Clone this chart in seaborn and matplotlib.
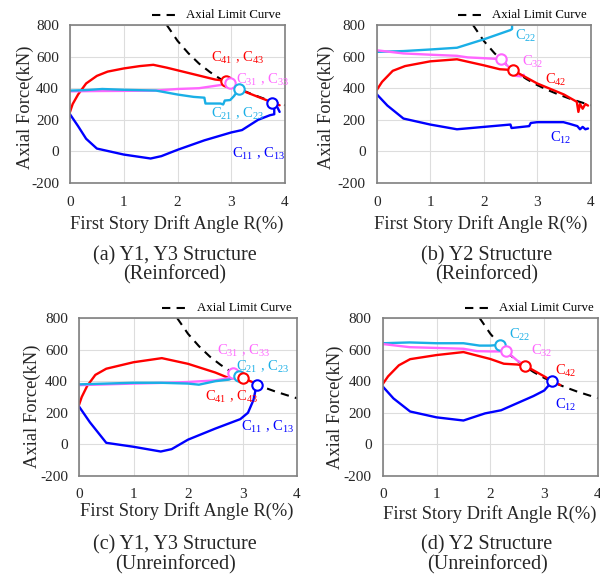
import numpy as np
import pandas as pd
import matplotlib
matplotlib.use("Agg")
import matplotlib.pyplot as plt
import seaborn as sns

sns.set_theme(style="whitegrid")
plt.rcParams['font.family'] = ['Liberation Serif', 'DejaVu Serif']
plt.rcParams['mathtext.fontset'] = 'custom'
plt.rcParams['mathtext.rm'] = 'Liberation Serif'
plt.rcParams['mathtext.it'] = 'Liberation Serif:italic'
plt.rcParams['mathtext.default'] = 'regular'
plt.rcParams['axes.unicode_minus'] = False

RED = "#FF0000"
MAG = "#FF66FF"
CYAN = "#1AAFE6"
BLUE = "#0000FF"

# ---- Axial limit curve ----
lim_R = [1.8, 2.0, 2.2, 2.4, 2.6, 2.8, 3.0, 3.2, 3.4, 3.6, 3.8, 4.0]
lim_N = [800, 700, 622, 556, 503, 458, 420, 388, 360, 335, 313, 292]

# ---- (a) Y1, Y3 reinforced ----
a_red_R = [0, 0.05, 0.15, 0.3, 0.5, 0.7, 1.0, 1.3, 1.55, 1.8, 2.1, 2.4, 2.7, 2.9, 3.2, 3.5, 3.75, 3.9]
a_red_N = [250, 300, 360, 430, 478, 505, 525, 540, 548, 530, 505, 480, 455, 447, 385, 345, 312, 292]
a_mag_R = [0, 0.5, 1.0, 1.6, 2.0, 2.4, 2.6, 2.8, 2.98]
a_mag_N = [380, 382, 383, 385, 395, 400, 410, 420, 430]
a_cyan_R = [0, 0.3, 0.6, 1.0, 1.6, 2.0, 2.3, 2.5, 2.52, 2.8, 2.85, 2.88, 2.98, 3.05, 3.14]
a_cyan_N = [385, 388, 395, 390, 385, 360, 345, 340, 303, 303, 297, 322, 325, 350, 392]
a_blue_R = [0, 0.15, 0.3, 0.5, 1.0, 1.5, 1.7, 2.0, 2.5, 3.0, 3.2, 3.5, 3.72, 3.8, 3.8, 3.75, 3.85, 3.9]
a_blue_N = [235, 160, 80, 18, -20, -45, -30, 10, 70, 120, 135, 200, 229, 235, 290, 308, 285, 250]

# ---- (b) Y2 reinforced ----
b_cyan_R = [0, 0.5, 1.0, 1.5, 2.0, 2.5, 2.53, 2.53]
b_cyan_N = [630, 635, 645, 656, 709, 768, 775, 810]
b_mag_R = [0, 0.5, 1.0, 1.5, 1.7, 2.0, 2.32, 2.45, 2.55, 2.6, 2.7, 2.75]
b_mag_N = [640, 620, 612, 605, 595, 590, 584, 540, 505, 478, 475, 485]
b_red_R = [0, 0.1, 0.3, 0.53, 1.0, 1.5, 2.0, 2.3, 2.54, 3.0, 3.5, 3.74, 3.77, 3.8, 3.85, 3.9, 3.95]
b_red_N = [388, 440, 510, 540, 570, 583, 545, 520, 515, 430, 360, 314, 250, 300, 270, 300, 290]
b_blue_R = [0, 0.2, 0.5, 1.0, 1.5, 2.0, 2.5, 2.52, 2.85, 2.88, 3.0, 3.49, 3.6, 3.75, 3.8, 3.85, 3.9, 3.95]
b_blue_N = [362, 290, 208, 170, 140, 155, 170, 148, 160, 180, 185, 185, 175, 160, 140, 155, 140, 145]

# ---- (c) Y1, Y3 unreinforced ----
c_red_R = [0, 0.05, 0.15, 0.3, 0.5, 1.0, 1.52, 2.0, 2.5, 2.75, 3.0, 3.25]
c_red_N = [250, 300, 370, 440, 479, 520, 546, 510, 455, 420, 420, 385]
c_mag_R = [0, 0.5, 1.0, 1.6, 2.0, 2.5, 2.75, 2.83]
c_mag_N = [375, 380, 385, 390, 395, 405, 420, 451]
c_cyan_R = [0, 0.5, 1.0, 1.5, 2.0, 2.2, 2.5, 2.75, 2.93]
c_cyan_N = [380, 385, 390, 390, 385, 378, 400, 410, 436]
c_blue_R = [0, 0.2, 0.5, 1.0, 1.5, 1.7, 2.0, 2.5, 2.96, 3.1, 3.2, 3.26]
c_blue_N = [240, 140, 10, -15, -45, -30, 30, 100, 160, 200, 280, 377]

# ---- (d) Y2 unreinforced ----
d_cyan_R = [0, 0.5, 1.0, 1.5, 1.8, 2.0, 2.18]
d_cyan_N = [640, 645, 640, 640, 625, 625, 630]
d_mag_R = [0, 0.5, 1.0, 1.5, 1.75, 2.0, 2.3, 2.5, 2.65]
d_mag_N = [635, 615, 610, 605, 590, 588, 588, 530, 497]
d_red_R = [0, 0.1, 0.3, 0.51, 1.0, 1.5, 2.0, 2.25, 2.5, 2.65, 3.0, 3.15, 3.3]
d_red_N = [381, 430, 500, 539, 565, 584, 540, 510, 505, 497, 430, 400, 375]
d_blue_R = [0, 0.2, 0.51, 1.0, 1.5, 1.9, 2.2, 2.5, 2.8, 3.0, 3.15]
d_blue_N = [366, 290, 207, 170, 150, 195, 215, 260, 305, 340, 398]

captions = [("(a) Y1, Y3 Structure", "(Reinforced)"), ("(b) Y2 Structure", "(Reinforced)"),
            ("(c) Y1, Y3 Structure", "(Unreinforced)"), ("(d) Y2 Structure", "(Unreinforced)")]

fig = plt.figure(figsize=(6, 5.79), dpi=100)
W, H = 600.0, 579.0
def ax_at(l, r, t, b):
    return fig.add_axes([l / W, 1 - b / H, (r - l) / W, (b - t) / H])

axes = [ax_at(70, 285, 25, 183), ax_at(376.7, 590.7, 25, 183),
        ax_at(79, 297, 318, 476), ax_at(382.7, 598, 318, 475.7)]
cap_pos = [(175, 256, 275), (487, 256, 275), (175, 545, 565), (487, 545, 565)]
xlab_pos = [(177, 224), (481, 224), (187, 511), (490, 514)]
ylab_pos = [(25, 107), (326, 107), (32.5, 406), (335.5, 407)]

def series(R, N, color, ax, lw=1.7):
    df = pd.DataFrame({"R": R, "N": N})
    sns.lineplot(data=df, x="R", y="N", sort=False, color=color, lw=lw, ax=ax, estimator=None)

def marker(ax, x, y, color):
    ax.plot([x], [y], marker="o", ms=7.5, mfc="white", mec=color, mew=1.5, zorder=6, clip_on=False)

panels = [
    dict(lines=[(a_red_R, a_red_N, RED), (a_mag_R, a_mag_N, MAG), (a_cyan_R, a_cyan_N, CYAN), (a_blue_R, a_blue_N, BLUE)],
         marks=[(a_red_R[13], a_red_N[13], RED), (a_mag_R[-1], a_mag_N[-1], MAG), (a_cyan_R[-1], a_cyan_N[-1], CYAN), (a_blue_R[15], a_blue_N[15], BLUE)],
         labels=[(2.62, 590, r"C$_{41}$ , C$_{43}$", RED), (3.09, 451, r"C$_{31}$ , C$_{33}$", MAG),
                 (2.62, 240, r"C$_{21}$ , C$_{23}$", CYAN), (3.01, -14, r"C$_{11}$ , C$_{13}$", BLUE)]),
    dict(lines=[(b_cyan_R, b_cyan_N, CYAN), (b_mag_R, b_mag_N, MAG), (b_red_R, b_red_N, RED), (b_blue_R, b_blue_N, BLUE)],
         marks=[(b_mag_R[6], b_mag_N[6], MAG), (b_red_R[8], b_red_N[8], RED)],
         labels=[(2.59, 730, r"C$_{22}$", CYAN), (2.71, 567, r"C$_{32}$", MAG),
                 (3.15, 455, r"C$_{42}$", RED), (3.23, 85, r"C$_{12}$", BLUE)]),
    dict(lines=[(c_red_R, c_red_N, RED), (c_mag_R, c_mag_N, MAG), (c_cyan_R, c_cyan_N, CYAN), (c_blue_R, c_blue_N, BLUE)],
         marks=[(c_mag_R[-1], c_mag_N[-1], MAG), (c_cyan_R[-1], c_cyan_N[-1], CYAN), (c_red_R[10], c_red_N[10], RED), (c_blue_R[-1], c_blue_N[-1], BLUE)],
         labels=[(2.54, 593, r"C$_{31}$ , C$_{33}$", MAG), (2.88, 489, r"C$_{21}$ , C$_{23}$", CYAN),
                 (2.31, 299, r"C$_{41}$ , C$_{43}$", RED), (2.97, 109, r"C$_{11}$ , C$_{13}$", BLUE)]),
    dict(lines=[(d_cyan_R, d_cyan_N, CYAN), (d_mag_R, d_mag_N, MAG), (d_red_R, d_red_N, RED), (d_blue_R, d_blue_N, BLUE)],
         marks=[(d_cyan_R[-1], d_cyan_N[-1], CYAN), (d_mag_R[6], d_mag_N[6], MAG), (d_red_R[9], d_red_N[9], RED), (d_blue_R[-1], d_blue_N[-1], BLUE)],
         labels=[(2.35, 694, r"C$_{22}$", CYAN), (2.75, 588, r"C$_{32}$", MAG),
                 (3.21, 467, r"C$_{42}$", RED), (3.20, 249, r"C$_{12}$", BLUE)]),
]

for k, (ax, p) in enumerate(zip(axes, panels)):
    ld = pd.DataFrame({"R": lim_R, "N": lim_N})
    sns.lineplot(data=ld, x="R", y="N", color="black", lw=1.5, ls=(0, (4, 3)), ax=ax, estimator=None, sort=False)
    for R, N, c in p["lines"]:
        series(R, N, c, ax)
    for x, y, c in p["marks"]:
        marker(ax, x, y, c)
    for x, y, t, c in p["labels"]:
        ax.text(x, y, t, color=c, fontsize=10.5, va="center", ha="left")
    ax.set_xlim(0, 4)
    ax.set_ylim(-200, 800)
    ax.set_xticks([0, 1, 2, 3, 4])
    ax.set_yticks([-200, 0, 200, 400, 600, 800])
    ax.grid(True, color="#DDDDDD", lw=0.8)
    for s in ax.spines.values():
        s.set_color("#808080")
        s.set_linewidth(1.2)
    ax.tick_params(axis="both", labelsize=11, colors="#262626", length=0)
    ax.tick_params(axis="y", pad=8)
    ax.tick_params(axis="x", pad=9)
    ax.set_xlabel("")
    ax.set_ylabel("")
    xl, yl = xlab_pos[k]
    fig.text(xl / W, 1 - yl / H, "First Story Drift Angle R(%)", fontsize=13.3,
             ha="center", va="center")
    xl, yl = ylab_pos[k]
    fig.text(xl / W, 1 - yl / H, "Axial Force(kN)", fontsize=13.3, rotation=90,
             ha="center", va="center")
    ax.plot([0.38, 0.51], [1.065, 1.065], transform=ax.transAxes, color="black", lw=1.5,
            ls=(0, (4, 3)), clip_on=False)
    ax.text(0.54, 1.065, "Axial Limit Curve", transform=ax.transAxes, fontsize=9.3,
            va="center", ha="left", color="black")
    cx, y1, y2 = cap_pos[k]
    fig.text(cx / W, 1 - y1 / H, captions[k][0], fontsize=14.5, ha="center", va="center")
    fig.text(cx / W, 1 - y2 / H, captions[k][1], fontsize=14.5, ha="center", va="center")

fig.savefig("out.png", dpi=100)
